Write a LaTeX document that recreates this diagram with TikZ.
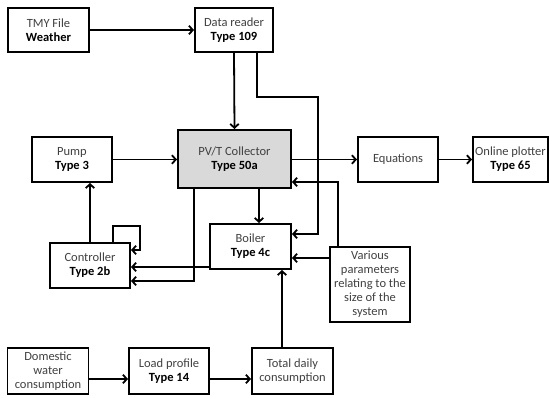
\documentclass[tikz,border=0pt]{standalone}
\usepackage{fontspec}
\setmainfont{Carlito}
\usetikzlibrary{arrows.meta}
\definecolor{BoxGray}{HTML}{D9D9D9}
\newcommand{\typ}[1]{\textcolor{black}{\textbf{#1}}}

\begin{document}
\begin{tikzpicture}[x=1pt, y=-1pt,
        box/.style={draw, line width=1.8pt, align=center, inner sep=1pt,
            minimum width=80pt, minimum height=45pt, text=black!75,
            font=\fontsize{12.5}{14}\selectfont},
        arr/.style={line width=1.8pt, -{Straight Barb[length=4pt,width=8.5pt]}}]
        \useasboundingbox (0,0) rectangle (549,397);
        \node[box, minimum width=81pt, minimum height=44pt] (tmy) at (48.5,30) {TMY File\\\typ{Weather}};
        \node[box, minimum width=78pt, minimum height=44pt] (reader) at (234,30) {Data reader\\\typ{Type 109}};
        \node[box, fill=BoxGray, minimum width=113pt, minimum height=58pt] (pvt) at (234.5,159) {PV/T Collector\\\typ{Type 50a}};
        \node[box] (pump) at (72,159.5) {Pump\\\typ{Type 3}};
        \node[box] (eq) at (398,159.5) {Equations};
        \node[box, minimum width=75pt] (plot) at (510.5,159.5) {Online plotter\\\typ{Type 65}};
        \node[box, minimum width=81pt] (boiler) at (250.5,246.5) {Boiler\\\typ{Type 4c}};
        \node[box, minimum height=75pt] (various) at (370,284.5) {Various\\parameters\\relating to the\\size of the\\system};
        \node[box] (ctrl) at (90,265.5) {Controller\\\typ{Type 2b}};
        \node[box, minimum width=81pt, minimum height=46pt] (dom) at (48,371) {Domestic\\water\\consumption};
        \node[box, minimum height=46pt] (load) at (169,371) {Load profile\\\typ{Type 14}};
        \node[box, minimum width=81pt, minimum height=46pt] (total) at (292.5,371) {Total daily\\consumption};

        \coordinate (turn) at (318,97);
        \coordinate (loop) at (140,226);
        \coordinate (bin) at ([yshift=-11.5pt]boiler.east);
        \coordinate (tin) at ([xshift=-10.5pt]total.north);

        \draw[arr] (tmy) -- (reader);
        \draw[arr] (reader.south) -- (pvt.north);
        \draw[arr] ([xshift=23pt]reader.south) |- (turn) |- ([yshift=12.5pt]boiler.east);
        \draw[arr] (pump.east) -- (pump.east -| pvt.west);
        \draw[arr] (pvt.east |- eq) -- (eq.west);
        \draw[arr] (eq) -- (plot);
        \draw[arr] ([xshift=-32pt]various.north) |- ([yshift=-23pt]pvt.east);
        \draw[arr] ([xshift=24.5pt]pvt.south) -- ([xshift=8.5pt]boiler.north);
        \draw[arr] (bin -| various.west) -- (bin);
        \draw[arr] (tin) -- (tin |- boiler.south);
        \draw[arr] (ctrl.north) -- (ctrl.north |- pump.south);
        \draw[arr] ([xshift=23pt]ctrl.north) |- (loop) |- ([yshift=15.5pt]ctrl.east);
        \draw[arr] ([yshift=-20.5pt]boiler.west) -- ([yshift=-1.5pt]ctrl.east);
        \draw[arr] ([xshift=-40.5pt]pvt.south) |- ([yshift=-15.5pt]ctrl.east);
        \draw[arr] ([yshift=-8pt]dom.east) -- ([yshift=-8pt]load.west);
        \draw[arr] ([yshift=-8pt]load.east) -- ([yshift=-8pt]total.west);
    \end{tikzpicture}
\end{document}
